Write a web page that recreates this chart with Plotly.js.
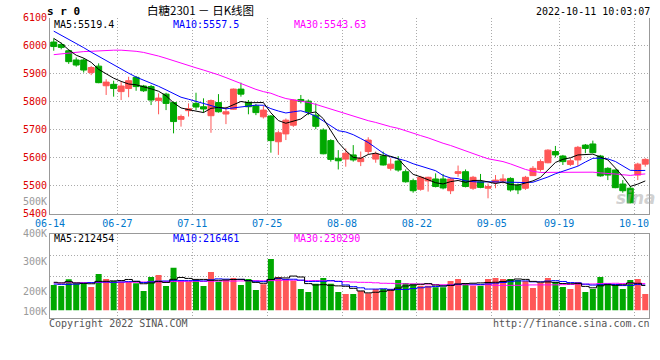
<!DOCTYPE html>
<html><head><meta charset="utf-8">
<script src="https://cdn.plot.ly/plotly-3.0.1.min.js"></script>
<style>html,body{margin:0;padding:0;background:#fff;}#chart{width:660px;height:360px;}</style>
</head><body><div id="chart"></div>
<script>
// ---------- data ----------
const dates = [
 "06-14","06-15","06-16","06-17","06-20","06-21","06-22","06-23","06-24","06-27","06-28","06-29","06-30",
 "07-01","07-04","07-05","07-06","07-07","07-08","07-11","07-12","07-13","07-14","07-15","07-18","07-19","07-20","07-21","07-22","07-25","07-26","07-27","07-28","07-29",
 "08-01","08-02","08-03","08-04","08-05","08-08","08-09","08-10","08-11","08-12","08-15","08-16","08-17","08-18","08-19","08-22","08-23","08-24","08-25","08-26","08-29","08-30","08-31",
 "09-01","09-02","09-05","09-06","09-07","09-08","09-09","09-13","09-14","09-15","09-16","09-19","09-20","09-21","09-22","09-23","09-26","09-27","09-28","09-29","09-30",
 "10-10","10-11"];
const tickDates = ["06-14","06-27","07-11","07-25","08-08","08-22","09-05","09-19","10-10"];

const open = [6013,6004,5982,5949,5949,5904,5927,5857,5862,5836,
 5847,5887,5856,5854,5804,5827,5797,5737,5768,5794,
 5782,5750,5797,5756,5773,5845,5798,5785,5746,5749,
 5657,5685,5716,5808,5802,5752,5699,5661,5598,5595,
 5610,5586,5622,5595,5606,5562,5588,5550,5518,5487,
 5517,5524,5524,5482,5544,5550,5491,5514,5491,5512,
 5517,5526,5502,5491,5536,5558,5582,5622,5606,5576,
 5592,5645,5649,5606,5562,5556,5506,5491,5538,5577];
const high = [6026,6011,5987,5958,5955,5927,5937,5880,5875,5872,
 5889,5892,5860,5860,5830,5832,5800,5754,5794,5832,
 5812,5808,5827,5782,5847,5868,5806,5792,5785,5752,
 5697,5740,5808,5824,5808,5794,5705,5666,5627,5633,
 5645,5622,5673,5622,5622,5598,5606,5558,5525,5535,
 5532,5544,5542,5529,5572,5558,5535,5542,5508,5538,
 5541,5530,5508,5535,5570,5594,5630,5642,5610,5598,
 5642,5649,5661,5610,5566,5558,5520,5499,5582,5598];
const low = [5982,5987,5935,5925,5904,5895,5866,5824,5818,5806,
 5816,5839,5835,5788,5755,5770,5687,5711,5747,5770,
 5761,5689,5761,5720,5771,5818,5755,5752,5740,5618,
 5610,5663,5710,5794,5752,5702,5612,5586,5558,5568,
 5586,5570,5613,5582,5572,5554,5550,5511,5475,5482,
 5479,5494,5487,5470,5532,5494,5485,5491,5455,5491,
 5508,5479,5470,5485,5535,5550,5580,5601,5574,5570,
 5570,5616,5616,5532,5520,5491,5475,5437,5520,5568];
const close = [5997,5994,5943,5931,5913,5922,5868,5870,5847,5856,
 5875,5854,5839,5806,5813,5794,5729,5747,5775,5781,
 5774,5804,5764,5764,5845,5827,5782,5761,5770,5661,
 5689,5734,5806,5801,5764,5712,5614,5594,5589,5616,
 5592,5598,5663,5613,5574,5577,5556,5514,5482,5530,
 5530,5497,5492,5524,5550,5497,5530,5494,5497,5520,
 5524,5485,5485,5530,5562,5586,5627,5610,5586,5589,
 5637,5633,5618,5535,5538,5493,5482,5439,5577,5594];

const ma5 = [6026,6009,5985,5966,5955.6,5940.6,5915.4,5900.8,5884,5872.6,
 5863.2,5860.4,5854.2,5846,5837.4,5821.2,5796.2,5777.8,5771.6,5765.2,
 5761.2,5776.2,5779.6,5777.4,5790.2,5800.8,5796.4,5795.8,5797,5760.2,
 5732.6,5723,5732,5738.2,5758.8,5763.4,5739.4,5697,5654.6,5625,
 5601,5597.8,5611.6,5616.4,5608,5605,5596.6,5566.8,5540.6,5531.8,
 5522.4,5510.6,5506.2,5514.6,5518.6,5512,5518.6,5519,5513.6,5507.6,
 5513,5504,5502.2,5508.8,5517.2,5529.6,5558,5583,5594.2,5599.6,
 5609.8,5611,5612.6,5602.4,5592.2,5563.4,5533.2,5497.4,5505.8,5517];
const ma10 = [6052,6038,6023,6008,5993,5977,5962,5947,5931,5914.1,
 5901.9,5887.9,5877.5,5865,5855,5842.2,5828.3,5816,5808.8,5801.3,
 5791.2,5786.2,5778.7,5774.5,5777.7,5781,5786.3,5787.7,5787.2,5775.2,
 5766.7,5759.7,5763.9,5767.6,5759.5,5748,5731.2,5714.5,5696.4,5691.9,
 5682.2,5668.6,5654.3,5635.5,5616.5,5603,5597.2,5589.2,5578.5,5569.9,
 5563.7,5553.6,5536.5,5527.6,5525.2,5517.2,5514.6,5512.6,5514.1,5513.1,
 5512.5,5511.3,5510.6,5511.2,5512.4,5521.3,5531,5542.6,5551.5,5558.4,
 5569.7,5584.5,5597.8,5598.3,5595.9,5586.6,5572.1,5555,5554.1,5554.6];
const ma30 = [5968,5971,5974,5977,5979,5980,5982,5983,5984,5984,
 5983,5980,5976,5970,5963,5955,5946,5937,5929,5921,
 5913,5905,5896,5886,5875,5864,5853,5844,5836,5830.2,
 5819.9,5811.3,5806.7,5802.4,5797.4,5790.4,5781.9,5772.7,5764.1,5756.1,
 5746.7,5738.2,5732.3,5725.9,5717.9,5710.7,5704.9,5697.1,5687.4,5679,
 5670.9,5660.6,5651.6,5643.6,5633.7,5622.7,5614.3,5605.4,5596.3,5591.6,
 5586.1,5577.8,5567.1,5558.1,5551.4,5547.2,5547.6,5548.1,5548,5547.1,
 5548.6,5549.8,5548.3,5545.7,5544.5,5541.7,5539.2,5536.7,5539.9,5542];

const volume = [219000,215700,238000,224700,224700,212300,255700,239000,232300,230000,
 230000,224700,199000,245700,252300,215700,276800,230000,230000,235700,
 215700,262300,230000,235700,242300,219000,239000,202300,221300,305700,
 245700,238000,233300,205700,195700,223300,242300,223300,195700,189000,
 189000,199000,191300,205700,205700,205700,235700,225700,223300,216700,
 216700,211300,211300,232300,239000,225700,216700,216700,239000,242300,
 239000,239000,235700,232300,209000,226700,242300,229000,212300,205700,
 229000,195700,205700,245700,223300,219000,205700,235700,239000,189000];
const volMa5 = [228000,226000,230000,226000,224420,223080,231080,231280,232800,233860,
 237400,231200,223200,225880,230340,227480,237900,244100,240960,237640,
 237640,234740,234740,235880,237200,237860,233200,227660,224780,237460,
 242800,242600,248800,245680,223680,219200,220060,218060,216060,214720,
 207860,199200,192800,194800,198140,201480,208820,215700,219220,221420,
 223620,218740,215860,217660,222120,223920,225000,226080,227420,228080,
 230740,235200,239000,237660,231000,228540,229200,227860,223860,223200,
 223660,214340,209680,216360,219880,217880,219880,225880,224540,217680];
const volMa10 = [222000,221000,221000,222000,225000,227000,229000,229000,228000,229140,
 230240,231140,227240,229340,232100,232440,234550,233650,233420,233990,
 232560,236320,239420,238420,237420,237750,233970,231200,230330,237330,
 240330,237900,238230,235230,230570,231000,231330,233430,230870,219200,
 213530,209630,205430,205430,206430,204670,204010,204250,207010,209780,
 212550,213780,215780,218440,221770,223770,221870,220970,222540,225100,
 227330,230100,232540,232540,229540,229640,232200,233430,230760,227100,
 226100,221770,218770,220110,221540,220770,217110,217780,220450,218780];
const volMa30 = [226000,225500,226500,226000,227000,226500,227500,228000,227500,228000,
 228500,228000,229000,229500,229000,230000,230500,230500,231000,231500,
 231000,231500,232000,232500,232000,232500,233000,233500,233000,233487,
 234377,235120,234963,234330,233363,233730,233283,232760,231540,230173,
 228807,227950,227693,226360,224807,224473,223103,222960,222737,222103,
 222137,220437,219813,219700,219590,219813,219070,219550,220140,218027,
 217803,217837,217917,218803,219247,219360,219360,219550,220103,220660,
 221993,221883,222363,223697,224283,224727,223727,224060,224583,223660];

const priceTicks = [5400,5500,5600,5700,5800,5900,6000,6100];
const priceMaLabels = ["MA5:5519.4","MA10:5557.5","MA30:5543.63"];
const volMaLabels = ["MA5:212454","MA10:216461","MA30:230290"];
const volAxisLabels = ["500K","400K","300K","200K","100K"];
const chartTitle = "白糖2301 － 日K线图";
const symbolText = "s r 0";
const timeText = "2022-10-11 10:03:07";

// ---------- geometry / style ----------
const W = 660, H = 360;
const px = x => x / W, py = y => 1 - y / H;
const L = 50, R = 649;
const RED = '#ff5757', GREEN = '#00a800';
const MONO = '"DejaVu Sans Mono", "Liberation Mono", monospace';
const GRID = '#aaaaaa', DASH = '1px,2px', AXL = '#999999';
const VOL_LO = 108000, VOL_HI = 388000, VOL_BASE = 135000;

const idx = dates.map((d, i) => i);
const tickPos = tickDates.map(d => dates.indexOf(d) - 0.5);
const volColors = close.map((c, i) => c >= open[i] ? RED : GREEN);

const traces = [
  {type:'candlestick', x:idx, open:open, high:high, low:low, close:close,
   xaxis:'x', yaxis:'y', whiskerwidth:0,
   increasing:{line:{color:RED,width:1}, fillcolor:RED},
   decreasing:{line:{color:GREEN,width:1}, fillcolor:GREEN},
   hoverinfo:'skip', showlegend:false},
  {type:'scatter', mode:'lines', x:idx, y:ma30, xaxis:'x', yaxis:'y', line:{color:'#ff00ff',width:1}, hoverinfo:'skip'},
  {type:'scatter', mode:'lines', x:idx, y:ma10, xaxis:'x', yaxis:'y', line:{color:'#0000ff',width:1}, hoverinfo:'skip'},
  {type:'scatter', mode:'lines', x:idx, y:ma5, xaxis:'x', yaxis:'y', line:{color:'#000000',width:1}, hoverinfo:'skip'},
  {type:'bar', x:idx, y:volume.map(v => v - VOL_BASE), base:VOL_BASE, width:0.8,
   marker:{color:volColors, line:{width:0}}, xaxis:'x2', yaxis:'y2', hoverinfo:'skip'},
  {type:'scatter', mode:'lines', x:idx, y:volMa30, xaxis:'x2', yaxis:'y2', line:{color:'#ff00ff',width:1,shape:'hvh'}, hoverinfo:'skip'},
  {type:'scatter', mode:'lines', x:idx, y:volMa10, xaxis:'x2', yaxis:'y2', line:{color:'#0000ff',width:1,shape:'hvh'}, hoverinfo:'skip'},
  {type:'scatter', mode:'lines', x:idx, y:volMa5, xaxis:'x2', yaxis:'y2', line:{color:'#000000',width:1,shape:'hvh'}, hoverinfo:'skip'}
];

function ann(text, x, y, anchor, color, size, extra) {
  return Object.assign({xref:'paper', yref:'paper', x:px(x), y:py(y), xanchor:anchor, yanchor:'middle',
    text:text, showarrow:false, borderpad:0, borderwidth:0,
    font:{family:MONO, size:size, color:color}}, extra || {});
}
const volLabelY = [200.7, 233, 260.7, 290.7, 310.7];
const annotations = [
  ann('<b>' + symbolText + '</b>', 47, 11, 'left', '#000', 11),
  ann(chartTitle, 200, 10, 'center', '#000', 11.5, {font:{family:'"Noto Sans CJK SC", sans-serif', size:11.5, color:'#000'}}),
  ann(timeText, 650, 12, 'right', '#000', 10),
  ann(priceMaLabels[0], 54, 24.5, 'left', '#000', 10),
  ann(priceMaLabels[1], 173, 24.5, 'left', '#0000ff', 10),
  ann(priceMaLabels[2], 294, 24.5, 'left', '#ff00ff', 10),
  ann(volMaLabels[0], 54, 238.5, 'left', '#000', 10),
  ann(volMaLabels[1], 173, 238.5, 'left', '#0000ff', 10),
  ann(volMaLabels[2], 294, 238.5, 'left', '#ff00ff', 10),
  ann('Copyright 2022 SINA.COM', 49, 323, 'left', '#555', 10),
  ann('http://finance.sina.com.cn', 650, 323, 'right', '#555', 10),
  ann('<b><i>sina</i></b>', 636, 198, 'center', 'rgba(170,170,170,0.55)', 17, {font:{family:'"DejaVu Sans", sans-serif', size:17, color:'rgba(170,170,170,0.55)'}})
].concat(volAxisLabels.map((t, k) => ann(t, 47, volLabelY[k], 'right', '#9a9a9a', 10, {height:10})));

const layout = {
  width:W, height:H, margin:{l:0,r:0,t:0,b:0}, paper_bgcolor:'#fff', plot_bgcolor:'#fff',
  showlegend:false, boxgap:0.2, boxgroupgap:0, dragmode:false,
  xaxis:{domain:[px(L),px(R)], anchor:'y', range:[-0.5, idx.length - 0.5], tickmode:'array', tickvals:tickPos, ticktext:tickDates,
    tickfont:{family:MONO, size:10, color:'#0077cc'}, ticks:'', ticklabelstandoff:0, showgrid:true, gridcolor:GRID, griddash:DASH, gridwidth:1,
    showline:true, linecolor:AXL, linewidth:1, mirror:false, zeroline:false, rangeslider:{visible:false}, fixedrange:true},
  yaxis:{domain:[py(213.7), py(17.7)], anchor:'x', range:[5400, 6100], tickmode:'array', tickvals:priceTicks, ticktext:priceTicks.map(String),
    tickfont:{family:MONO, size:10, color:'#dd0000'}, ticks:'', showgrid:true, gridcolor:GRID, griddash:DASH, gridwidth:1,
    showline:true, linecolor:AXL, linewidth:1, mirror:true, zeroline:false, fixedrange:true},
  xaxis2:{domain:[px(L),px(R)], anchor:'y2', matches:'x', range:[-0.5, idx.length - 0.5], tickmode:'array', tickvals:tickPos, showticklabels:false,
    ticks:'', showgrid:true, gridcolor:GRID, griddash:DASH, gridwidth:1, showline:true, linecolor:AXL, linewidth:1, mirror:true, zeroline:false, fixedrange:true},
  yaxis2:{domain:[py(318.3), py(234.3)], anchor:'x2', range:[VOL_LO, VOL_HI], tickmode:'array',
    tickvals:[1,2,3].map(k => VOL_LO + k * (VOL_HI - VOL_LO) / 4), showticklabels:false, ticks:'',
    showgrid:true, gridcolor:GRID, griddash:DASH, gridwidth:1, showline:true, linecolor:AXL, linewidth:1, mirror:true, zeroline:false, fixedrange:true},
  annotations:annotations
};

Plotly.newPlot('chart', traces, layout, {staticPlot:true, displayModeBar:false});
</script>
</body></html>
